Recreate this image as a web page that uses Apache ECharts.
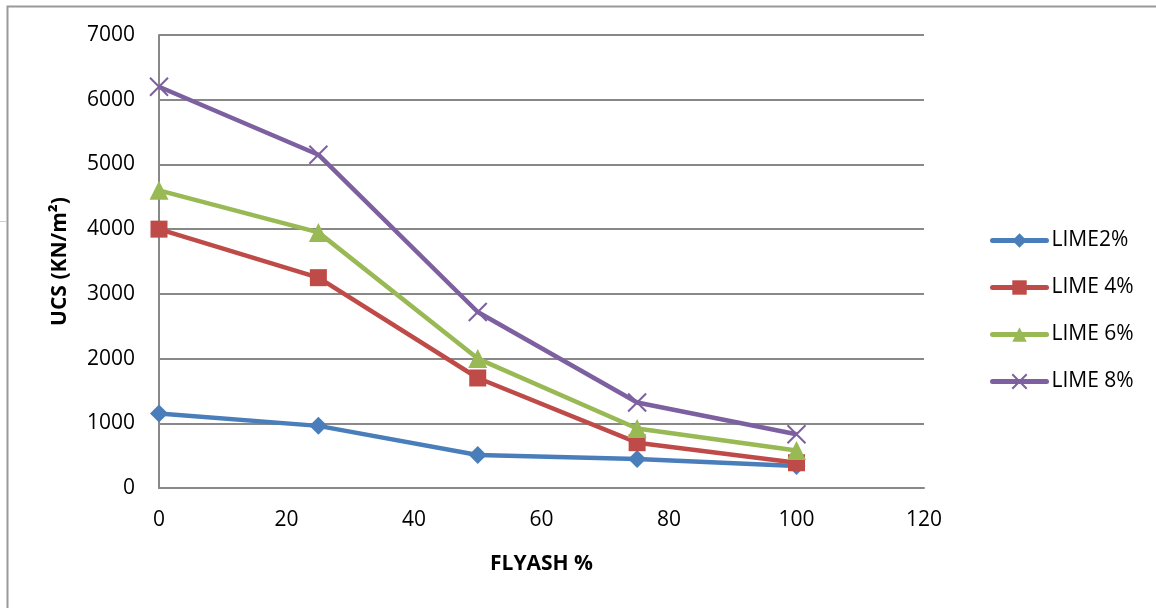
<!DOCTYPE html>
<html>
<head>
<meta charset="utf-8">
<script src="https://cdn.jsdelivr.net/npm/echarts@6/dist/echarts.min.js"></script>
<style>
  html, body { margin: 0; padding: 0; background: #fff; }
  #main { width: 1156px; height: 608px; }
</style>
</head>
<body>
<div id="main"></div>
<script>
// flyash content (%)
var flyash = [0, 25, 50, 75, 100];

// UCS values
var lime2 = [1150, 960, 510, 450, 340];
var lime4 = [4000, 3250, 1700, 700, 390];
var lime6 = [4600, 3950, 2000, 920, 580];
var lime8 = [6200, 5150, 2720, 1320, 830];

var seriesNames = ['LIME2%', 'LIME 4%', 'LIME 6%', 'LIME 8%'];
var colors = ['#4a7ebb', '#be4b48', '#98b954', '#7d60a0'];

function pairs(ys) {
  return flyash.map(function (x, i) { return [x, ys[i]]; });
}

var chart = echarts.init(document.getElementById('main'));

var font = '"Open Sans", "Liberation Sans", sans-serif';

var option = {
  animation: false,
  color: colors,
  graphic: [
    {
      type: 'rect',
      shape: { x: 7.5, y: 6.5, width: 1160, height: 620 },
      style: { fill: 'none', stroke: '#999', lineWidth: 2 }
    },
    {
      type: 'line',
      shape: { x1: 0, y1: 221.5, x2: 7, y2: 221.5 },
      style: { stroke: '#ccc', lineWidth: 1 }
    }
  ],
  grid: { left: 159, right: 232, top: 35, bottom: 120 },
  legend: {
    orient: 'vertical',
    left: 985,
    top: 225,
    itemGap: 26,
    itemWidth: 54,
    itemHeight: 18,
    itemGap: 26,
    lineStyle: { width: 5, cap: 'round' },
    textStyle: { fontFamily: font, fontSize: 21, color: '#000' },
    data: seriesNames
  },
  xAxis: {
    type: 'value',
    min: 0,
    max: 120,
    interval: 20,
    name: 'FLYASH %',
    nameLocation: 'middle',
    nameGap: 66,
    nameTextStyle: { fontFamily: font, fontSize: 21, fontWeight: 'bold', color: '#000' },
    axisLine: { lineStyle: { color: '#888', width: 2 } },
    axisTick: { show: false },
    axisLabel: { fontFamily: font, fontSize: 21, color: '#000', margin: 22 },
    splitLine: { show: false }
  },
  yAxis: {
    type: 'value',
    min: 0,
    max: 7000,
    interval: 1000,
    name: 'UCS (KN/m²)',
    nameLocation: 'middle',
    nameGap: 88,
    nameTextStyle: { fontFamily: font, fontSize: 21, fontWeight: 'bold', color: '#000' },
    axisLine: { show: true, lineStyle: { color: '#888', width: 2 } },
    axisTick: { show: false },
    axisLabel: {
      fontFamily: font, fontSize: 21, color: '#000', margin: 24,
      formatter: function (v) { return String(v); }
    },
    splitLine: { lineStyle: { color: '#888', width: 2 } }
  },
  series: [
    {
      name: seriesNames[0],
      type: 'line',
      data: pairs(lime2),
      symbol: 'diamond',
      symbolSize: 18,
      lineStyle: { width: 4.5 }
    },
    {
      name: seriesNames[1],
      type: 'line',
      data: pairs(lime4),
      symbol: 'rect',
      symbolSize: 17,
      lineStyle: { width: 4.5 }
    },
    {
      name: seriesNames[2],
      type: 'line',
      data: pairs(lime6),
      symbol: 'triangle',
      symbolSize: 19,
      lineStyle: { width: 4.5 }
    },
    {
      name: seriesNames[3],
      type: 'line',
      data: pairs(lime8),
      symbol: 'path://M0,0L10,10M10,0L0,10',
      symbolSize: 18,
      itemStyle: { color: 'none', borderColor: colors[3], borderWidth: 2 },
      lineStyle: { width: 4.5, color: colors[3] }
    }
  ]
};

chart.setOption(option);
</script>
</body>
</html>
